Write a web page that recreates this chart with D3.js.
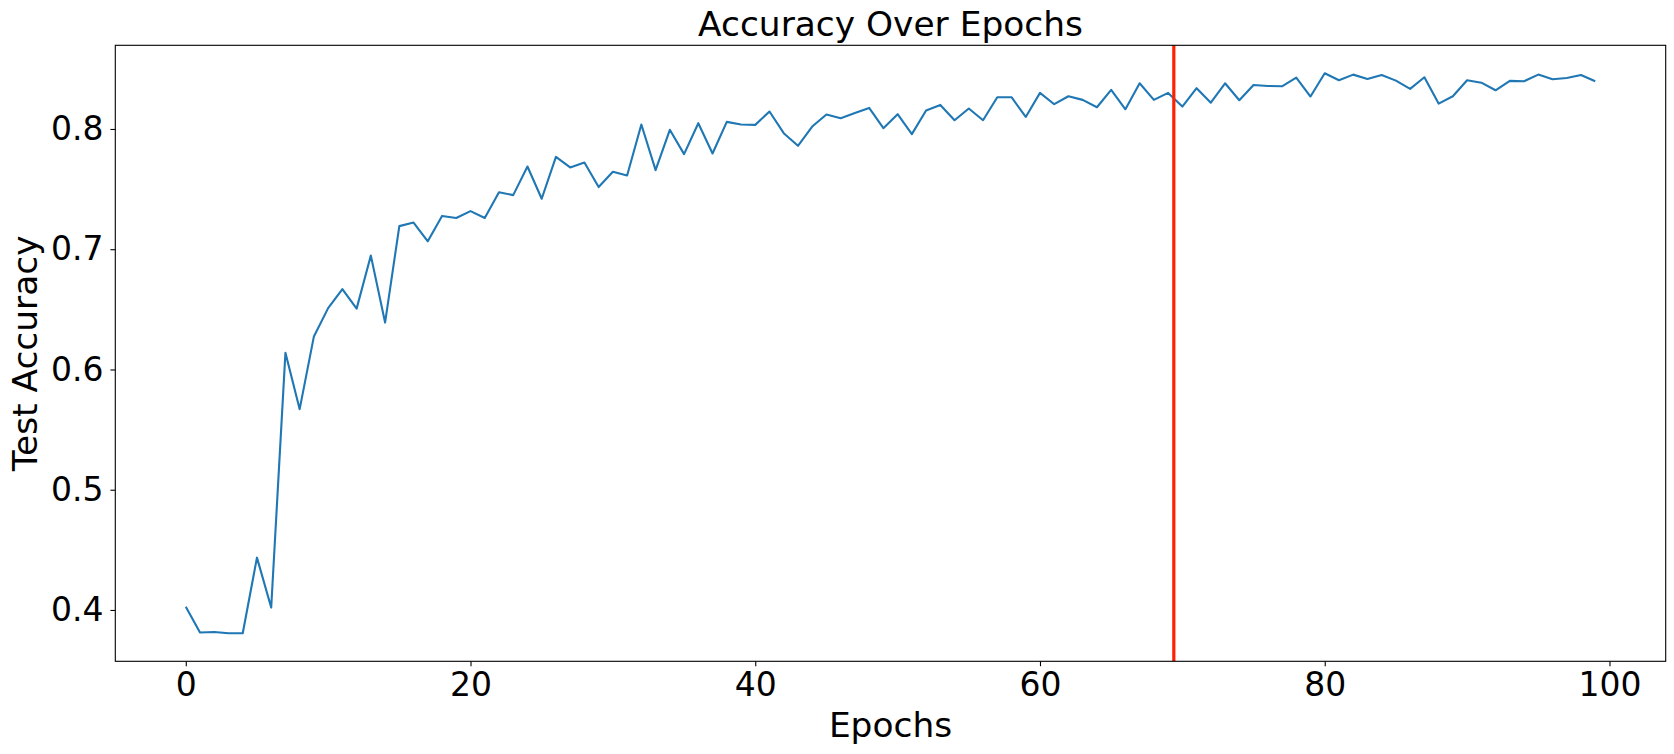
<!DOCTYPE html>
<html>
<head>
<meta charset="utf-8">
<script src="https://cdn.jsdelivr.net/npm/d3@7"></script>
<style>
  body { margin: 0; background: #fff; }
  text { font-family: "DejaVu Sans", sans-serif; fill: #000; }
</style>
</head>
<body>
<svg class="chart"></svg>
<script>
    // test accuracy per epoch
    var accuracy = [
      0.4027, 0.3813, 0.3817, 0.3806, 0.3806, 0.4435, 0.4020, 0.6139, 0.5670, 0.6275,
      0.6510, 0.6669, 0.6506, 0.6947, 0.6390, 0.7192, 0.7222, 0.7066, 0.7277, 0.7260,
      0.7317, 0.7260, 0.7474, 0.7450, 0.7688, 0.7420, 0.7768, 0.7680, 0.7721, 0.7517,
      0.7644, 0.7613, 0.8037, 0.7658, 0.7993, 0.7791, 0.8048, 0.7796, 0.8059, 0.8037,
      0.8034, 0.8145, 0.7965, 0.7860, 0.8020, 0.8120, 0.8090, 0.8133, 0.8175, 0.8007,
      0.8123, 0.7957, 0.8153, 0.8200, 0.8073, 0.8170, 0.8073, 0.8264, 0.8264, 0.8100,
      0.8300, 0.8206, 0.8272, 0.8242, 0.8181, 0.8325, 0.8164, 0.8380, 0.8242, 0.8300,
      0.8186, 0.8339, 0.8219, 0.8380, 0.8239, 0.8366, 0.8358, 0.8355, 0.8427, 0.8270,
      0.8463, 0.8405, 0.8452, 0.8416, 0.8449, 0.8402, 0.8333, 0.8430, 0.8211, 0.8272,
      0.8405, 0.8385, 0.8322, 0.8400, 0.8397, 0.8452, 0.8414, 0.8424, 0.8449, 0.8397
    ];
    var epochs = accuracy.map(function(d, i) { return i; });
    var markerEpoch = 69.4;
    var xTicks = [0, 20, 40, 60, 80, 100];
    var yTicks = [0.4, 0.5, 0.6, 0.7, 0.8];

    var width = 1674;
    var height = 754;
    var plotLeft = 115.3, plotRight = 1665.7, plotTop = 45.3, plotBottom = 661.3;

    // matplotlib style 5% margins
    var xPad = (epochs.length - 1) * 0.05;
    var yExt = d3.extent(accuracy);
    var yPad = (yExt[1] - yExt[0]) * 0.05;

    var x = d3.scaleLinear()
        .domain([-xPad, epochs.length - 1 + xPad])
        .range([plotLeft, plotRight]);

    var y = d3.scaleLinear()
        .domain([yExt[0] - yPad, yExt[1] + yPad])
        .range([plotBottom, plotTop]);

    var chart = d3.select(".chart")
        .attr("width", width)
        .attr("height", height);

    // line
    var line = d3.line()
        .x(function(d, i) { return x(epochs[i]); })
        .y(function(d) { return y(d); });

    chart.append("path")
        .datum(accuracy)
        .attr("fill", "none")
        .attr("stroke", "#1f77b4")
        .attr("stroke-width", 2.1)
        .attr("stroke-linejoin", "round")
        .attr("d", line);

    // vertical marker
    chart.append("line")
        .attr("x1", x(markerEpoch))
        .attr("x2", x(markerEpoch))
        .attr("y1", plotTop)
        .attr("y2", plotBottom)
        .attr("stroke", "#ff2000")
        .attr("stroke-width", 3.2);

    // frame
    chart.append("rect")
        .attr("x", plotLeft)
        .attr("y", plotTop)
        .attr("width", plotRight - plotLeft)
        .attr("height", plotBottom - plotTop)
        .attr("fill", "none")
        .attr("stroke", "#000")
        .attr("stroke-width", 1.1);

    // axes
    var xAxis = chart.append("g")
        .attr("transform", "translate(0," + plotBottom + ")")
        .call(d3.axisBottom(x).tickValues(xTicks).tickSize(4.9).tickPadding(6).tickFormat(d3.format("d")));

    var yAxis = chart.append("g")
        .attr("transform", "translate(" + plotLeft + ",0)")
        .call(d3.axisLeft(y).tickValues(yTicks).tickSize(4.9).tickPadding(7).tickFormat(d3.format(".1f")));

    [xAxis, yAxis].forEach(function(g) {
      g.select(".domain").remove();
      g.selectAll(".tick line").attr("stroke", "#000").attr("stroke-width", 1.1);
      g.selectAll(".tick text")
        .style("font-family", "DejaVu Sans")
        .style("font-size", "33px")
        .attr("fill", "#000");
    });

    // titles
    chart.append("text")
        .attr("x", (plotLeft + plotRight) / 2)
        .attr("y", 36)
        .style("text-anchor", "middle")
        .style("font-size", "34.4px")
        .text("Accuracy Over Epochs");

    chart.append("text")
        .attr("x", (plotLeft + plotRight) / 2)
        .attr("y", 737)
        .style("text-anchor", "middle")
        .style("font-size", "34.4px")
        .text("Epochs");

    chart.append("text")
        .attr("transform", "rotate(-90)")
        .attr("x", -(plotTop + plotBottom) / 2)
        .attr("y", 37)
        .style("text-anchor", "middle")
        .style("font-size", "34.4px")
        .text("Test Accuracy");
</script>
</body>
</html>
